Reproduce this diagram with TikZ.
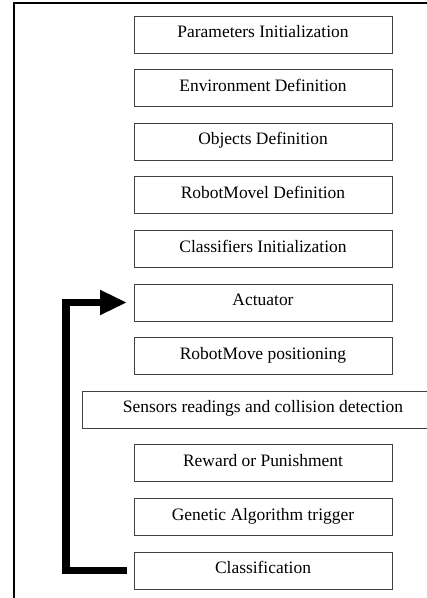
\documentclass[tikz,border=0pt]{standalone}
\usepackage{fontspec}
\setmainfont{Liberation Serif}
\usetikzlibrary{positioning,arrows.meta}
\begin{document}
\begin{tikzpicture}[
  stage/.style={draw=black!75,line width=0.8pt,minimum width=7.74cm,minimum height=1.11cm,
    inner sep=0pt,outer sep=0pt,text height=1.5ex,text depth=0.3ex,font=\fontsize{14.9}{18}\selectfont},
  node distance=0.498cm]
\useasboundingbox (0,0) rectangle (12.81,17.94);
\clip (0,0) rectangle (12.81,17.94);
%frame
\draw[line width=1.2pt,color=black] (0.42,0) -- (0.42,17.85) -- (12.9,17.85);
%steps
\node[stage] (par) at (7.89,16.905) {Parameters Initialization};
\node[stage,below=of par] (env) {Environment Definition};
\node[stage,below=of env] (obj) {Objects Definition};
\node[stage,below=of obj] (rob) {RobotMovel Definition};
\node[stage,below=of rob] (cla) {Classifiers Initialization};
\node[stage,below=of cla] (act) {Actuator};
\node[stage,below=of act] (pos) {RobotMove positioning};
\node[stage,below=of pos,minimum width=10.86cm] (sen) {Sensors readings and collision detection};
\node[stage,below=of sen] (rew) {Reward or Punishment};
\node[stage,below=of rew] (gen) {Genetic Algorithm trigger};
\node[stage,below=of gen] (cls) {Classification};
%loop back
\draw[line width=6pt,-{Triangle[length=0.81cm,width=0.7cm]}]
  ([xshift=-0.21cm]cls.west) -- ++(-1.83,0) |- ([xshift=-0.21cm]act.west);
\end{tikzpicture}
\end{document}
